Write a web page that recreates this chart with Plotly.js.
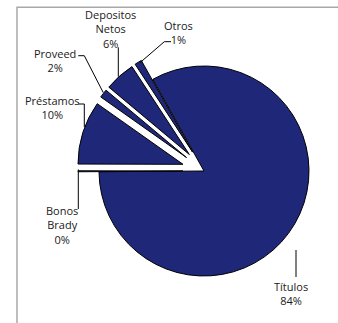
<!DOCTYPE html>
<html>
<head>
<meta charset="utf-8">
<script src="https://cdn.plot.ly/plotly-3.0.1.min.js"></script>
<style>html,body{margin:0;padding:0;background:#fff;}#chart{width:338px;height:323px;}</style>
</head>
<body>
<div id="chart"></div>
<script>
// Data
const labels = ['Títulos', 'Bonos Brady', 'Préstamos', 'Proveed', 'Depositos Netos', 'Otros'];
const values = [83.0, 0.15, 9.75, 1.3, 4.7, 1.1];
const pctText = ['84%', '0%', '10%', '2%', '6%', '1%'];

const W = 338, H = 323;
const px = x => x / W;
const py = y => 1 - y / H;

// Label centres (pixel layout)
const labelPos = [
  [291, 293], [62, 225], [52, 108], [55, 61], [110, 29], [178, 32]
];

const annotations = labels.map((lab, i) => ({
  xref: 'paper', yref: 'paper',
  x: px(labelPos[i][0]), y: py(labelPos[i][1]),
  xanchor: 'center', yanchor: 'middle',
  text: lab.replace(' ', '<br>') + '<br>' + pctText[i],
  showarrow: false,
  font: {family: 'Open Sans, sans-serif', size: 11, color: '#1a1a1a'},
  align: 'center'
}));

// Leader lines (pixel polylines)
const leaders = [
  [[296, 250], [296, 277]],
  [[78.3, 169.5], [78.3, 209]],
  [[78.3, 104], [84.3, 104], [84.3, 127]],
  [[78.3, 55.7], [84.3, 55.7], [103.3, 92.7]],
  [[118.3, 47.3], [118.3, 76.7]],
  [[171, 41.7], [164.3, 41.7], [140, 62.7]]
];
const shapes = [];
leaders.forEach(pts => {
  for (let k = 0; k < pts.length - 1; k++) {
    shapes.push({type: 'line', xref: 'paper', yref: 'paper',
      x0: px(pts[k][0]), y0: py(pts[k][1]), x1: px(pts[k+1][0]), y1: py(pts[k+1][1]),
      line: {color: '#000', width: 1}});
  }
});
// frame
shapes.push({type: 'line', xref: 'paper', yref: 'paper', x0: px(16.5), y0: py(7.3), x1: 1, y1: py(7.3), line: {color: '#a8a8a8', width: 1.5}});
shapes.push({type: 'line', xref: 'paper', yref: 'paper', x0: px(17), y0: py(7.3), x1: px(17), y1: 0, line: {color: '#a8a8a8', width: 1.5}});

const cx = 204, cy = 171, r = 105, maxPull = 0.21;
const half = r * (1 + maxPull);

const trace = {
  type: 'pie',
  labels: labels,
  values: values,
  sort: false,
  direction: 'clockwise',
  rotation: -29.2,
  pull: [0, 0.2, 0.21, 0.21, 0.21, 0.21],
  textinfo: 'none',
  hoverinfo: 'none',
  showlegend: false,
  marker: {colors: labels.map(() => '#1f2878'), line: {color: '#000', width: 1}},
  domain: {x: [px(cx - half), px(cx + half)], y: [py(cy + half), py(cy - half)]}
};

Plotly.newPlot('chart', [trace], {
  width: W, height: H,
  margin: {l: 0, r: 0, t: 0, b: 0},
  paper_bgcolor: '#fff',
  showlegend: false,
  annotations: annotations,
  shapes: shapes
}, {displayModeBar: false, staticPlot: true});
</script>
</body>
</html>
